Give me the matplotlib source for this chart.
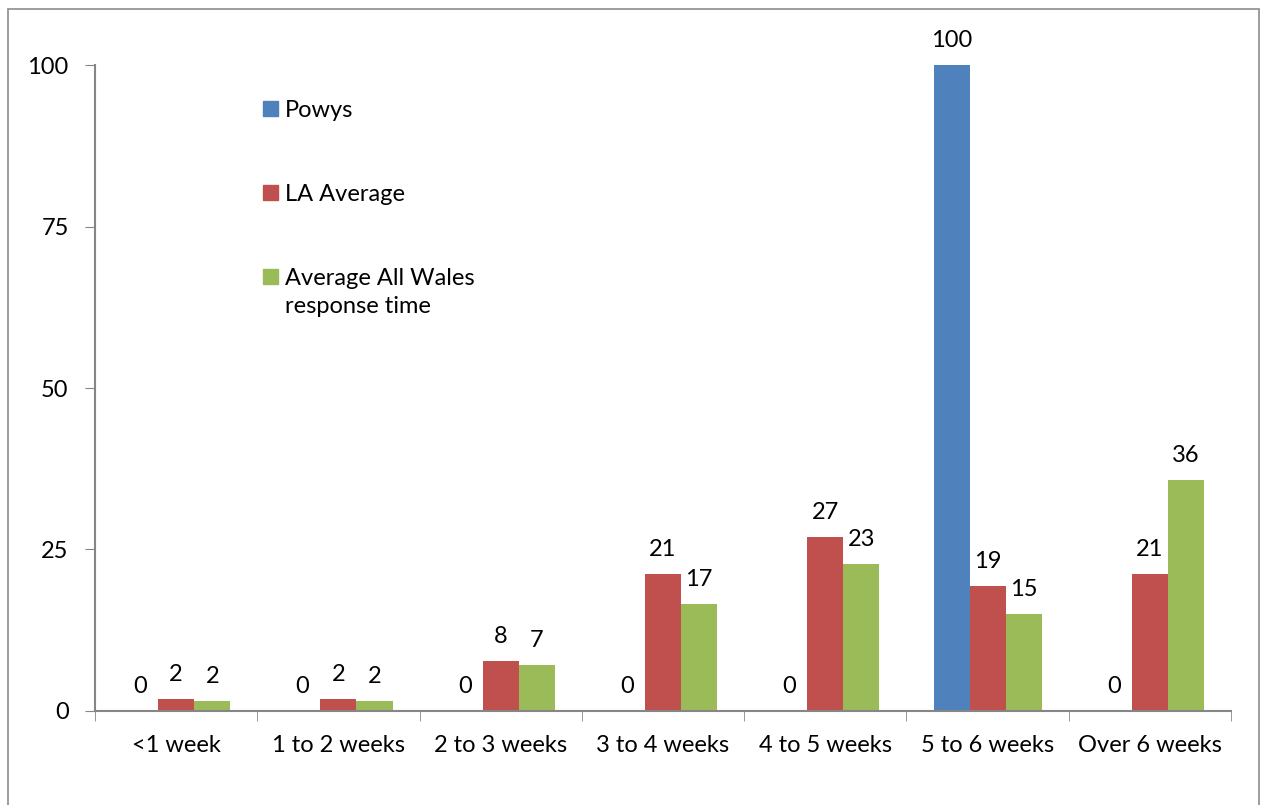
"""Response times chart: Powys vs LA average vs All Wales."""
import numpy as np
import matplotlib.pyplot as plt
from matplotlib.patches import Rectangle

categories = ['<1 week', '1 to 2 weeks', '2 to 3 weeks', '3 to 4 weeks',
              '4 to 5 weeks', '5 to 6 weeks', 'Over 6 weeks']
powys = [0, 0, 0, 0, 0, 100, 0]
la_average = [1.9, 1.9, 7.8, 21.2, 26.9, 19.3, 21.2]
all_wales = [1.6, 1.6, 7.1, 16.6, 22.7, 15.0, 35.8]

series_names = ['Powys', 'LA Average', 'Average All Wales\nresponse time']
colours = ['#4F81BD', '#C0504D', '#9BBB59']

plt.rcParams['font.family'] = ['Lato', 'DejaVu Sans']
FS = 17

fig = plt.figure(figsize=(12.62, 8.05), dpi=100)
fig.patches.append(Rectangle((0.006, -0.01), 0.992, 0.999, transform=fig.transFigure,
                             fill=False, edgecolor='#8c8c8c', linewidth=1.2))
ax = fig.add_axes([0.0753, 0.1168, 0.9002, 0.8024])

x = np.arange(len(categories))
width = 0.222
for i, (vals, col) in enumerate(zip([powys, la_average, all_wales], colours)):
    bars = ax.bar(x + (i - 1) * width, vals, width, color=col)
    for b, v in zip(bars, vals):
        ax.annotate('%.0f' % v, (b.get_x() + b.get_width() / 2, b.get_height()),
                    xytext=(0, 10), textcoords='offset points',
                    ha='center', va='bottom', fontsize=FS)

ax.set_xlim(-0.5, len(categories) - 0.5)
ax.set_ylim(0, 100)
ax.set_yticks([0, 25, 50, 75, 100])
ax.set_xticks(x)
ax.set_xticklabels(categories)
ax.set_xticks(np.arange(len(categories) + 1) - 0.5, minor=True)
ax.tick_params(axis='x', which='major', length=0, pad=17, labelsize=FS)
ax.tick_params(axis='x', which='minor', length=7, color='#868686', direction='out')
ax.tick_params(axis='y', length=7, color='#868686', direction='out', pad=12, labelsize=FS)

for s in ['top', 'right']:
    ax.spines[s].set_visible(False)
for s in ['left', 'bottom']:
    ax.spines[s].set_color('#868686')
    ax.spines[s].set_linewidth(1.5)

# legend drawn by hand so the square lines up with the first text line
sq_w, sq_h = 15 / 1136, 15 / 646
leg_y = [0.9334, 0.8034, 0.6734]
for name, col, y in zip(series_names, colours, leg_y):
    ax.add_patch(Rectangle((0.148, y - sq_h / 2), sq_w, sq_h, transform=ax.transAxes,
                           color=col, clip_on=False))
    ax.text(0.1673, y + 8 / 646, name, transform=ax.transAxes, fontsize=FS,
            va='top', ha='left', linespacing=1.4)

fig.savefig('out.png', dpi=100)
plt.close(fig)
